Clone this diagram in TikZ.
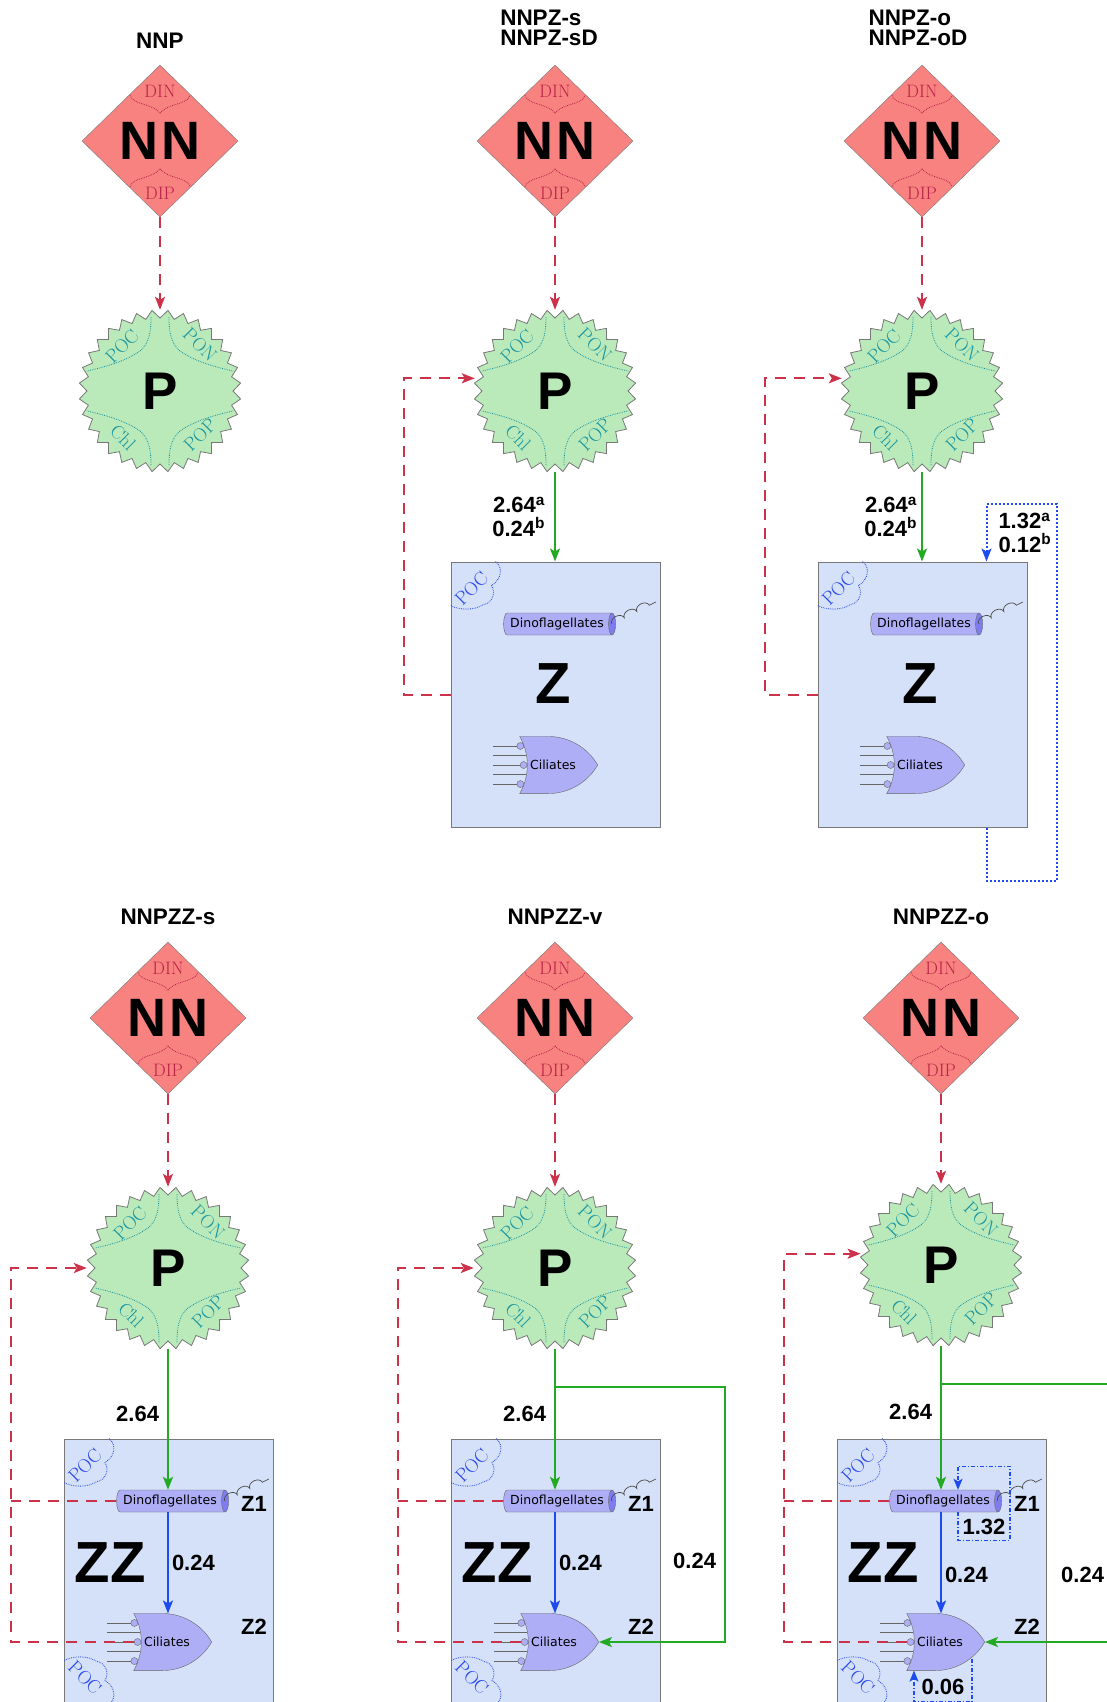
\documentclass[tikz,border=0pt]{standalone}
\usepackage{fontspec}
\usetikzlibrary{positioning,arrows.meta,shapes.geometric,shapes.gates.logic.US,decorations.pathmorphing}
\newfontfamily\lsans{Liberation Sans}
\newfontfamily\dvsans{DejaVu Sans}
\definecolor{nnred}{RGB}{247,130,128}
\definecolor{nntext}{RGB}{185,35,70}
\definecolor{pgreen}{RGB}{186,233,186}
\definecolor{ptext}{RGB}{25,150,160}
\definecolor{zblue}{RGB}{212,225,248}
\definecolor{pocblue}{RGB}{40,70,235}
\definecolor{dinofill}{RGB}{174,174,246}
\definecolor{dinoend}{RGB}{125,125,240}
\definecolor{feedred}{RGB}{205,50,75}
\definecolor{flowgreen}{RGB}{35,170,35}
\definecolor{grazeblue}{RGB}{30,75,240}
\definecolor{edgegray}{RGB}{120,120,120}

\begin{document}
\begin{tikzpicture}[x=1pt,y=-1pt,
    >={Stealth[length=13pt,width=10pt,inset=3pt]},
    title/.style={font=\lsans\bfseries\fontsize{22.5}{19.5}\selectfont,inner sep=0pt},
    num/.style={font=\lsans\bfseries\fontsize{22}{23.5}\selectfont,inner sep=1pt},
    big/.style={font=\lsans\bfseries\fontsize{58}{60}\selectfont,inner sep=0pt},
    nnbox/.style={diamond,draw=edgegray,fill=nnred,minimum width=156pt,minimum height=152pt,inner sep=0pt,font=\lsans\bfseries\fontsize{54}{56}\selectfont},
    nnlab/.style={text=nntext,font=\fontsize{18}{18}\selectfont,inner sep=0pt},
    nnline/.style={draw=nntext,densely dotted,line width=.8pt},
    pstar/.style={circle,minimum size=162pt,inner sep=0pt,font=\lsans\bfseries\fontsize{53}{55}\selectfont},
    starline/.style={draw=edgegray,fill=pgreen,line width=.8pt},
    plab/.style={text=ptext,font=\fontsize{19}{19}\selectfont,inner sep=0pt},
    pline/.style={draw=ptext,densely dotted,line width=.8pt},
    zbox/.style={rectangle,draw=edgegray,line width=1pt,fill=zblue,minimum width=209pt,minimum height=265pt,inner sep=0pt},
    dino/.style={cylinder,aspect=.5,draw=gray!80!black,cylinder uses custom fill,cylinder body fill=dinofill,cylinder end fill=dinoend,minimum width=22pt,minimum height=112pt,inner sep=1pt,font=\dvsans\fontsize{12.5}{12.5}\selectfont},
    cil/.style={or gate US,draw=gray!80!black,fill=dinofill,logic gate inputs=inini,logic gate input sep=9.4pt,logic gate inverted radius=3.5pt,minimum width=78pt,minimum height=56pt,inner sep=0pt,font=\dvsans\fontsize{12.5}{12.5}\selectfont},
    stub/.style={draw=gray!80!black,line width=.7pt},
    wave/.style={draw=gray!60!black,line width=.7pt,decorate,decoration={bumps,segment length=28pt,amplitude=5pt}},
    pocline/.style={draw=pocblue,densely dotted,line width=.8pt},
    poclab/.style={text=pocblue,font=\fontsize{19}{19}\selectfont,inner sep=0pt},
    feed/.style={draw=feedred,line width=2pt,dash pattern=on 11pt off 8pt},
    flow/.style={draw=flowgreen,line width=2pt},
    graze/.style={draw=grazeblue,line width=2pt},
    selfz/.style={draw=grazeblue,line width=2pt,dash pattern=on 2pt off 2pt},
    selfzz/.style={draw=grazeblue,line width=1.4pt,dash pattern=on 4pt off 2pt on 1pt off 2pt,>={Stealth[length=11pt,width=9pt,inset=2.5pt]}},
    poc/.pic={\draw[pocline] (45,0) .. controls (53,6) and (51,18) .. (41,24) .. controls (46,32) and (41,42) .. (33,43) .. controls (24,49) and (9,49) .. (0,44);
      \node[poclab,rotate=#1] (-t) at (21,27) {POC};}
  ]
  \useasboundingbox (0,0) rectangle (1107,1702);
  \clip (0,0) rectangle (1107,1702);

  % titles
  \node[title] (ta) at (160,41) {NNP};
  \node[title,align=left] (tb) at (549,28) {NNPZ-s\\NNPZ-sD};
  \node[title,align=left] (tc) at (918,28) {NNPZ-o\\NNPZ-oD};
  \node[title] (td) at (168,917) {NNPZZ-s};
  \node[title] (te) at (555,917) {NNPZZ-v};
  \node[title] (tf) at (941,917) {NNPZZ-o};

  % nutrients and phytoplankton
  \foreach \n/\x/\yd/\yp in {a/160/141/391,b/555/141/391,c/922/141/391,d/168/1018/1268,e/555/1018/1268,f/941/1018/1265}{
    \node[nnbox] (nn\n) at (\x,\yd) {N\kern3pt N};
    \begin{scope}[shift={(\x,\yp)}]
      \draw[starline] (0:73) \foreach \k in {1,...,63}{ -- ({\k*5.625}:{73+8*mod(\k,2)}) } -- cycle;
      \foreach \sx/\sy in {1/1,-1/1,1/-1,-1/-1}
        \draw[pline,xscale=\sx,yscale=\sy] (-9,-74) .. controls (-9,-54) and (-13,-44) .. (-23,-38) .. controls (-34,-31) and (-50,-25) .. (-73,-20);
      \node[plab,rotate=45] (poc\n) at (-38,-45) {POC};
      \node[plab,rotate=-45] (pon\n) at (40,-46) {PON};
      \node[plab,rotate=-45] (chl\n) at (-37,47) {Chl};
      \node[plab,rotate=45] (pop\n) at (40,44) {POP};
    \end{scope}
    \node[pstar] (p\n) at (\x,\yp) {P};
    \draw[feed,->] (nn\n.south) -- (p\n.north);
    \begin{scope}[shift={(\x,\yd)}]
      \draw[nnline] (-30,-46) .. controls (-28,-36) and (-8,-38) .. (0,-28) .. controls (8,-38) and (28,-36) .. (30,-46);
      \draw[nnline] (-30,46) .. controls (-28,36) and (-8,38) .. (0,28) .. controls (8,38) and (28,36) .. (30,46);
      \node[nnlab] (din\n) at (0,-50) {DIN};
      \node[nnlab] (dip\n) at (0,52) {DIP};
    \end{scope}
  }

  % one zooplankton group
  \foreach \n/\x/\g/\fx in {b/555/8/47,c/922/3/53}{
    \node[zbox] (z\n) at ({\x+0.5},694.5) {};
    \node[dino] (d\n) at ({\x+2},624) {Dinoflagellates};
    \node[big] (zl\n) at ({\x-2},684) {Z};
    \node[cil] (c\n) at ({\x-2},765) {Ciliates};
    \coordinate (s\n) at ([xshift=-34pt]c\n.west);
    \foreach \i in {1,...,5}
      \draw[stub] (c\n.input \i) -- (c\n.input \i -| s\n);
    \draw[wave] ([xshift=-4pt]d\n.east) -- ++(44,-22);
    \pic (pocz\n) at (z\n.north west) {poc=45};
    \draw[flow,->] (p\n.south) -- node[num,left=\g pt,align=right] {2.64\textsuperscript{a}\\0.24\textsuperscript{b}} (p\n.south |- z\n.north);
    \draw[feed,->] (z\n.west) -- ++(-\fx,0) |- (p\n.171);
  }
  \draw[selfz,->] ([xshift=64pt]zc.south) -- ++(0,53) -- ++(70,0) -- ++(0,-377) -- ++(-70,0)
    -- node[num,right=10pt,align=left] {1.32\textsuperscript{a}\\0.12\textsuperscript{b}} ([xshift=64pt]zc.north);

  % two zooplankton groups
  \foreach \n/\x/\bp/\pa in {d/168/.5/180,e/555/.5/180,f/941/.62/172}{
    \node[zbox] (z\n) at ({\x+1},1571.5) {};
    \node[dino] (d\n) at ({\x+2},1501) {Dinoflagellates};
    \node[cil] (c\n) at ({\x-1},1642) {Ciliates};
    \node[big] (zl\n) at ({\x-58},1563) {ZZ};
    \node[num] (za\n) at ({\x+86},1504) {Z1};
    \node[num] (zb\n) at ({\x+86},1627) {Z2};
    \coordinate (s\n) at ([xshift=-34pt]c\n.west);
    \foreach \i in {1,...,5}
      \draw[stub] (c\n.input \i) -- (c\n.input \i -| s\n);
    \draw[wave] ([xshift=-4pt]d\n.east) -- ++(44,-22);
    \pic (pocz\n) at (z\n.north west) {poc=45};
    \pic[yscale=-1] (pocy\n) at (z\n.south west) {poc=-45};
    \draw[flow,->] (p\n.south) -- node[num,left=7pt,pos=.46] {2.64} (p\n.south |- d\n.north);
    \draw[graze,->] (p\n.south |- d\n.south) -- node[num,right=2pt,pos=\bp] {0.24} (p\n.south |- c\n.north);
    \coordinate (v\n) at ({\x-157},1400);
    \draw[feed,->] (c\n.input 3) -- (c\n.input 3 -| v\n) |- (p\n.\pa);
    \draw[feed] (d\n.west) -- (d\n.west -| v\n);
  }
  \draw[flow,->] ([yshift=-38pt]pe.south) -- ++(170,0) |- node[num,left=7pt,pos=.34] {0.24} (ce.output);
  \draw[flow,->] ([yshift=-38pt]pf.south) -- ++(172,0) |- node[num,left=7pt,pos=.37] {0.24} (cf.output);
  \draw[selfzz,->] ([xshift=15pt]df.south) -- ++(0,28) -- node[num,above=4pt] {1.32} ++(52,0) -- ++(0,-74) -- ++(-52,0) -- ([xshift=15pt]df.north);
  \draw[selfzz,->] ([xshift=32pt,yshift=12pt]cf.south) -- ++(0,43) -- node[num,above=5pt] {0.06} ++(-58,0) -- ([xshift=-26pt]cf.south);
\end{tikzpicture}
\end{document}
